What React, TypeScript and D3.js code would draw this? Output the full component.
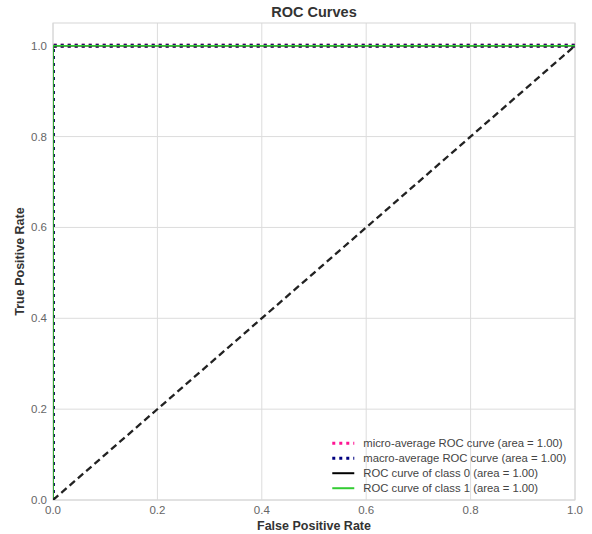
import React, { useRef, useEffect } from "react";
import * as d3 from "d3";

// ROC curve points (false positive rate / true positive rate)
const microFpr = [0, 0, 1];
const microTpr = [0, 1, 1];
const macroFpr = [0, 0, 1];
const macroTpr = [0, 1, 1];
const class0Fpr = [0, 0, 1];
const class0Tpr = [0, 1, 1];
const class1Fpr = [0, 0, 1];
const class1Tpr = [0, 1, 1];
const chanceFpr = [0, 1];
const chanceTpr = [0, 1];

const xTicks = [0, 0.2, 0.4, 0.6, 0.8, 1.0];
const yTicks = [0, 0.2, 0.4, 0.6, 0.8, 1.0];

const legendLabels = [
  "micro-average ROC curve (area = 1.00)",
  "macro-average ROC curve (area = 1.00)",
  "ROC curve of class 0 (area = 1.00)",
  "ROC curve of class 1 (area = 1.00)",
];

const FONT = "'Liberation Sans', Arial, sans-serif";

function RocChart() {
  const svgRef = useRef<SVGSVGElement>(null);

  useEffect(() => {
    const svg = d3.select(svgRef.current);
    svg.selectAll("*").remove();

    const margin = { top: 23, right: 17, bottom: 34, left: 53 };
    const width = 592 - margin.left - margin.right;
    const height = 534 - margin.top - margin.bottom;

    const x = d3.scaleLinear().domain([0, 1]).range([0, width]);
    const y = d3.scaleLinear().domain([0, 1.05]).range([height, 0]);

    svg
      .append("defs")
      .append("clipPath")
      .attr("id", "plot-clip")
      .append("rect")
      .attr("width", width)
      .attr("height", height);

    const g = svg.append("g").attr("transform", `translate(${margin.left},${margin.top})`);

    // grid
    g.selectAll(".vgrid")
      .data(xTicks)
      .enter()
      .append("line")
      .attr("x1", (d) => x(d))
      .attr("x2", (d) => x(d))
      .attr("y1", 0)
      .attr("y2", height)
      .style("stroke", "#dcdcdc")
      .style("stroke-width", 1);
    g.selectAll(".hgrid")
      .data(yTicks)
      .enter()
      .append("line")
      .attr("x1", 0)
      .attr("x2", width)
      .attr("y1", (d) => y(d))
      .attr("y2", (d) => y(d))
      .style("stroke", "#dcdcdc")
      .style("stroke-width", 1);

    // frame
    g.append("rect")
      .attr("width", width)
      .attr("height", height)
      .style("fill", "none")
      .style("stroke", "#d6d6d6")
      .style("stroke-width", 1);

    // tick labels
    g.selectAll(".xt")
      .data(xTicks)
      .enter()
      .append("text")
      .attr("x", (d) => x(d))
      .attr("y", height + 14)
      .attr("text-anchor", "middle")
      .style("font-family", FONT)
      .style("font-size", "11.5px")
      .style("fill", "#666")
      .text((d) => d.toFixed(1));
    g.selectAll(".yt")
      .data(yTicks)
      .enter()
      .append("text")
      .attr("x", -6)
      .attr("y", (d) => y(d))
      .attr("dy", "0.35em")
      .attr("text-anchor", "end")
      .style("font-family", FONT)
      .style("font-size", "11.5px")
      .style("fill", "#666")
      .text((d) => d.toFixed(1));

    const line = (xs: number[], ys: number[]) =>
      d3
        .line<number>()
        .x((d) => x(d))
        .y((_, i) => y(ys[i]))(xs);

    const curves = g.append("g").attr("clip-path", "url(#plot-clip)");

    curves
      .append("path")
      .attr("d", line(microFpr, microTpr))
      .style("fill", "none")
      .style("stroke", "deeppink")
      .style("stroke-width", 4)
      .style("stroke-dasharray", "3,4");
    curves
      .append("path")
      .attr("d", line(macroFpr, macroTpr))
      .style("fill", "none")
      .style("stroke", "#1a1a5e")
      .style("stroke-width", 4)
      .style("stroke-dasharray", "3,4");
    curves
      .append("path")
      .attr("d", line(class0Fpr, class0Tpr))
      .style("fill", "none")
      .style("stroke", "#000")
      .style("stroke-width", 1.5);
    curves
      .append("path")
      .attr("d", line(class1Fpr, class1Tpr))
      .style("fill", "none")
      .style("stroke", "#33cc33")
      .style("stroke-width", 1.5);
    curves
      .append("path")
      .attr("d", line(chanceFpr, chanceTpr))
      .style("fill", "none")
      .style("stroke", "#222")
      .style("stroke-width", 2.3)
      .style("stroke-dasharray", "7,4");

    // legend
    const legendStyles = [
      { color: "deeppink", dash: "3,4", w: 3 },
      { color: "navy", dash: "3,4", w: 3 },
      { color: "#000", dash: null, w: 2 },
      { color: "#33cc33", dash: null, w: 2 },
    ];
    const lg = g.append("g").attr("transform", `translate(${x(0.535)},${y(0.125)})`);
    const rows = lg
      .selectAll("g")
      .data(legendLabels)
      .enter()
      .append("g")
      .attr("transform", (_, i) => `translate(0,${i * 15})`);
    rows
      .append("line")
      .attr("x1", 0)
      .attr("x2", 22)
      .style("stroke", (_, i) => legendStyles[i].color)
      .style("stroke-width", (_, i) => legendStyles[i].w)
      .style("stroke-dasharray", (_, i) => legendStyles[i].dash);
    rows
      .append("text")
      .attr("x", 31)
      .attr("dy", "0.35em")
      .style("font-family", FONT)
      .style("font-size", "11.3px")
      .style("fill", "#444")
      .text((d) => d);

    // title & axis labels
    svg
      .append("text")
      .attr("x", margin.left + width / 2)
      .attr("y", 17)
      .attr("text-anchor", "middle")
      .style("font-family", FONT)
      .style("font-size", "14.5px")
      .style("font-weight", "bold")
      .style("fill", "#333")
      .text("ROC Curves");
    svg
      .append("text")
      .attr("x", margin.left + width / 2)
      .attr("y", 530)
      .attr("text-anchor", "middle")
      .style("font-family", FONT)
      .style("font-size", "12.5px")
      .style("font-weight", "bold")
      .style("fill", "#333")
      .text("False Positive Rate");
    svg
      .append("text")
      .attr("transform", `translate(24,${margin.top + height / 2}) rotate(-90)`)
      .attr("text-anchor", "middle")
      .style("font-family", FONT)
      .style("font-size", "12.5px")
      .style("font-weight", "bold")
      .style("fill", "#333")
      .text("True Positive Rate");
  }, []);

  return (
    <svg
      ref={svgRef}
      width={592}
      height={534}
      style={{ position: "absolute", left: 0, top: 0, background: "#fff" }}
    />
  );
}

export default function App() {
  return <RocChart />;
}
